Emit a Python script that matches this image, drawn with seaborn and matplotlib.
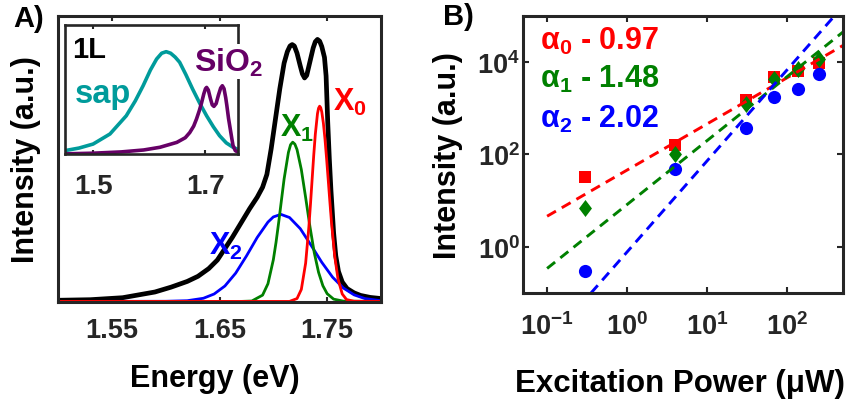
import matplotlib
matplotlib.use("Agg")
import matplotlib.pyplot as plt
import seaborn as sns

# ---- panel A: PL spectrum and its three components (normalised intensity) ----
energy_total = [1.500, 1.530, 1.560, 1.590, 1.605, 1.620, 1.630, 1.640, 1.648, 1.655,
                1.662, 1.670, 1.678, 1.685, 1.690, 1.694, 1.698, 1.702, 1.706, 1.710,
                1.713, 1.7155, 1.7175, 1.7195, 1.722, 1.725, 1.727, 1.729, 1.731, 1.734,
                1.737, 1.739, 1.741, 1.743, 1.745, 1.7475, 1.749, 1.7505, 1.752, 1.7535,
                1.756, 1.758, 1.7605, 1.764, 1.7685, 1.775, 1.781, 1.790, 1.800]
total = [0.004, 0.006, 0.013, 0.033, 0.050, 0.070, 0.088, 0.115, 0.145, 0.185,
         0.225, 0.275, 0.325, 0.365, 0.400, 0.445, 0.535, 0.640, 0.745, 0.835,
         0.875, 0.895, 0.900, 0.895, 0.870, 0.825, 0.797, 0.783, 0.792, 0.840,
         0.888, 0.910, 0.918, 0.912, 0.893, 0.855, 0.790, 0.630, 0.500, 0.390,
         0.240, 0.160, 0.105, 0.068, 0.045, 0.030, 0.021, 0.014, 0.010]

energy_x0 = [1.500, 1.715, 1.722, 1.726, 1.730, 1.733, 1.7345, 1.736, 1.7375, 1.739,
             1.741, 1.742, 1.743, 1.744, 1.745, 1.7465, 1.748, 1.7495, 1.751, 1.7525,
             1.754, 1.757, 1.760, 1.764, 1.768, 1.775, 1.800]
x0 = [0.0, 0.0, 0.010, 0.042, 0.134, 0.261, 0.341, 0.426, 0.511, 0.586,
      0.658, 0.677, 0.684, 0.679, 0.664, 0.624, 0.568, 0.499, 0.425, 0.350,
      0.278, 0.159, 0.080, 0.026, 0.0065, 0.0005, 0.0]

energy_x1 = [1.500, 1.670, 1.680, 1.690, 1.695, 1.700, 1.7025, 1.705, 1.7075, 1.710,
             1.714, 1.716, 1.718, 1.720, 1.722, 1.726, 1.730, 1.734, 1.738, 1.742,
             1.746, 1.750, 1.756, 1.765, 1.800]
x1 = [0.0, 0.0, 0.0014, 0.022, 0.062, 0.146, 0.207, 0.278, 0.354, 0.429,
      0.522, 0.549, 0.558, 0.551, 0.532, 0.462, 0.364, 0.262, 0.171, 0.102,
      0.055, 0.027, 0.008, 0.001, 0.0]

energy_x2 = [1.500, 1.600, 1.620, 1.635, 1.645, 1.655, 1.665, 1.675, 1.685, 1.695,
             1.700, 1.707, 1.715, 1.725, 1.735, 1.745, 1.755, 1.765, 1.775, 1.785, 1.800]
x2 = [0.0, 0.0005, 0.0025, 0.011, 0.026, 0.054, 0.099, 0.159, 0.224, 0.278,
      0.296, 0.305, 0.294, 0.255, 0.197, 0.137, 0.085, 0.047, 0.023, 0.010, 0.0025]

# inset: 1L on sapphire and on SiO2
energy_sap = [1.450, 1.475, 1.500, 1.530, 1.559, 1.575, 1.589, 1.602, 1.613, 1.622,
              1.630, 1.638, 1.646, 1.654, 1.665, 1.677, 1.690, 1.702, 1.714, 1.725,
              1.737, 1.749, 1.757]
sap = [0.030, 0.050, 0.081, 0.159, 0.300, 0.415, 0.533, 0.655, 0.740, 0.785,
       0.797, 0.785, 0.755, 0.715, 0.620, 0.508, 0.395, 0.300, 0.215, 0.146,
       0.090, 0.056, 0.040]

energy_sio2 = [1.450, 1.500, 1.550, 1.590, 1.619, 1.649, 1.664, 1.672, 1.679, 1.684,
               1.689, 1.693, 1.697, 1.700, 1.702, 1.705, 1.709, 1.712, 1.715, 1.719,
               1.723, 1.727, 1.730, 1.733, 1.736, 1.738, 1.741, 1.744, 1.747, 1.749,
               1.753, 1.757]
sio2 = [0.005, 0.010, 0.020, 0.035, 0.056, 0.094, 0.130, 0.170, 0.220, 0.275,
        0.340, 0.400, 0.470, 0.510, 0.520, 0.500, 0.430, 0.385, 0.373, 0.395,
        0.460, 0.515, 0.533, 0.510, 0.440, 0.380, 0.280, 0.200, 0.120, 0.070,
        0.030, 0.020]

# ---- panel B: power dependence ----
power = [0.30, 4.0, 31, 68, 136, 247]
int_x0 = [33, 160, 1520, 4700, 6300, 9500]
int_x1 = [6.9, 105, 1230, 4270, 7100, 11600]
int_x2 = [0.30, 48, 367, 1740, 2640, 5500]

fit_x0_p = [0.1, 500]
fit_x0_i = [4.6, 2.3e4]
fit_x1_p = [0.1, 500]
fit_x1_i = [0.34, 4.5e4]
fit_x2_p = [0.354, 400]
fit_x2_i = [0.1, 1.05e5]

RED, GREEN, BLUE = "#ff0000", "#008000", "#0000ff"
TEAL, PURPLE = "#009b9b", "#660066"
GREY = "#262626"

sns.set_style("ticks")
plt.rcParams.update({
    "font.family": ["Liberation Sans", "DejaVu Sans"],
    "font.weight": "bold",
    "axes.labelweight": "bold",
    "mathtext.fontset": "custom",
    "mathtext.rm": "Liberation Sans:bold",
    "mathtext.it": "Liberation Sans:bold",
    "mathtext.bf": "Liberation Sans:bold",
    "mathtext.default": "rm",
    "axes.edgecolor": GREY,
    "xtick.color": GREY,
    "ytick.color": GREY,
})

fig = plt.figure(figsize=(8.51, 4.02), dpi=100)
axA = fig.add_axes([0.0682, 0.2463, 0.3795, 0.7114])
axIn = fig.add_axes([0.0764, 0.6132, 0.2027, 0.3209])
axB = fig.add_axes([0.6146, 0.2687, 0.376, 0.689])

# panel A
sns.lineplot(x=energy_total, y=total, color="black", lw=3.4, ax=axA)
sns.lineplot(x=energy_x2, y=x2, color=BLUE, lw=2.0, ax=axA)
sns.lineplot(x=energy_x1, y=x1, color=GREEN, lw=2.0, ax=axA)
sns.lineplot(x=energy_x0, y=x0, color=RED, lw=2.0, ax=axA)
axA.set_xlim(1.5, 1.8)
axA.set_ylim(-0.002, 1.0)
axA.set_xticks([1.55, 1.65, 1.75])
axA.set_yticks([])
axA.tick_params(axis="x", direction="in", top=True, length=3.5, width=1.5,
                labelsize=19.5, pad=10.5)
axA.set_xlabel("Energy (eV)", fontsize=22, color="black")
axA.set_ylabel("Intensity (a.u.)", fontsize=22, color="black")
axA.xaxis.set_label_coords(0.486, -0.212)
axA.yaxis.set_label_coords(-0.053, 0.5)
for s in axA.spines.values():
    s.set_linewidth(2.2)
axA.text(1.7558, 0.67, "X$_0$", color=RED, fontsize=22)
axA.text(1.7066, 0.579, "X$_1$", color=GREEN, fontsize=22)
axA.text(1.6398, 0.168, "X$_2$", color=BLUE, fontsize=22)

# inset
sns.lineplot(x=energy_sap, y=sap, color=TEAL, lw=2.6, ax=axIn)
sns.lineplot(x=energy_sio2, y=sio2, color=PURPLE, lw=2.6, ax=axIn)
axIn.set_xlim(1.45, 1.757)
axIn.set_ylim(0, 1.0)
axIn.set_xticks([1.5, 1.7])
axIn.set_yticks([])
axIn.tick_params(axis="x", direction="in", top=True, length=3, width=1.5,
                 labelsize=20, pad=13)
for s in axIn.spines.values():
    s.set_linewidth(1.9)
axIn.text(0.041, 0.756, "1L", color="black", fontsize=21, transform=axIn.transAxes)
axIn.text(0.058, 0.405, "sap", color=TEAL, fontsize=23.5, transform=axIn.transAxes)
axIn.text(0.748, 0.65, "SiO$_2$", color=PURPLE, fontsize=23, transform=axIn.transAxes,
          clip_on=False, zorder=5,
          bbox=dict(facecolor="white", edgecolor="none", pad=1))

# panel B
axB.set_xscale("log")
axB.set_yscale("log")
sns.lineplot(x=fit_x0_p, y=fit_x0_i, color=RED, lw=2.1, linestyle=(0, (3.5, 2.3)), ax=axB)
sns.lineplot(x=fit_x1_p, y=fit_x1_i, color=GREEN, lw=2.1, linestyle=(0, (3.5, 2.3)), ax=axB)
sns.lineplot(x=fit_x2_p, y=fit_x2_i, color=BLUE, lw=2.1, linestyle=(0, (3.5, 2.3)), ax=axB)
sns.scatterplot(x=power, y=int_x0, marker="s", color=RED, s=64, linewidth=0, ax=axB)
sns.scatterplot(x=power, y=int_x1, marker=[(0, 1), (0.76, 0), (0, -1), (-0.76, 0)],
                color=GREEN, s=150, linewidth=0, ax=axB)
sns.scatterplot(x=power, y=int_x2, marker="o", color=BLUE, s=90, linewidth=0, ax=axB)
axB.set_xlim(0.05, 500)
axB.set_ylim(0.1, 1e5)
axB.set_xticks([0.1, 1, 10, 100])
axB.set_yticks([1, 100, 1e4])
axB.minorticks_off()
axB.tick_params(direction="in", top=True, right=True, length=4, width=1.5, labelsize=19.5)
axB.tick_params(axis="x", pad=14)
axB.tick_params(axis="y", pad=2)
axB.set_xlabel("Excitation Power (\u03bcW)", fontsize=22.5, color="black")
axB.set_ylabel("Intensity (a.u.)", fontsize=22, color="black")
axB.xaxis.set_label_coords(0.49, -0.27)
axB.yaxis.set_label_coords(-0.1875, 0.5)
for s in axB.spines.values():
    s.set_linewidth(2.2)
axB.text(0.053, 0.881, "\u03b1$_0$ - 0.97", color=RED, fontsize=22, transform=axB.transAxes)
axB.text(0.053, 0.744, "\u03b1$_1$ - 1.48", color=GREEN, fontsize=22, transform=axB.transAxes)
axB.text(0.053, 0.599, "\u03b1$_2$ - 2.02", color=BLUE, fontsize=22, transform=axB.transAxes)

fig.text(0.0153, 0.934, "A)", fontsize=21, color="black")
fig.text(0.5206, 0.938, "B)", fontsize=21, color="black")

fig.savefig("out.png", dpi=100)
